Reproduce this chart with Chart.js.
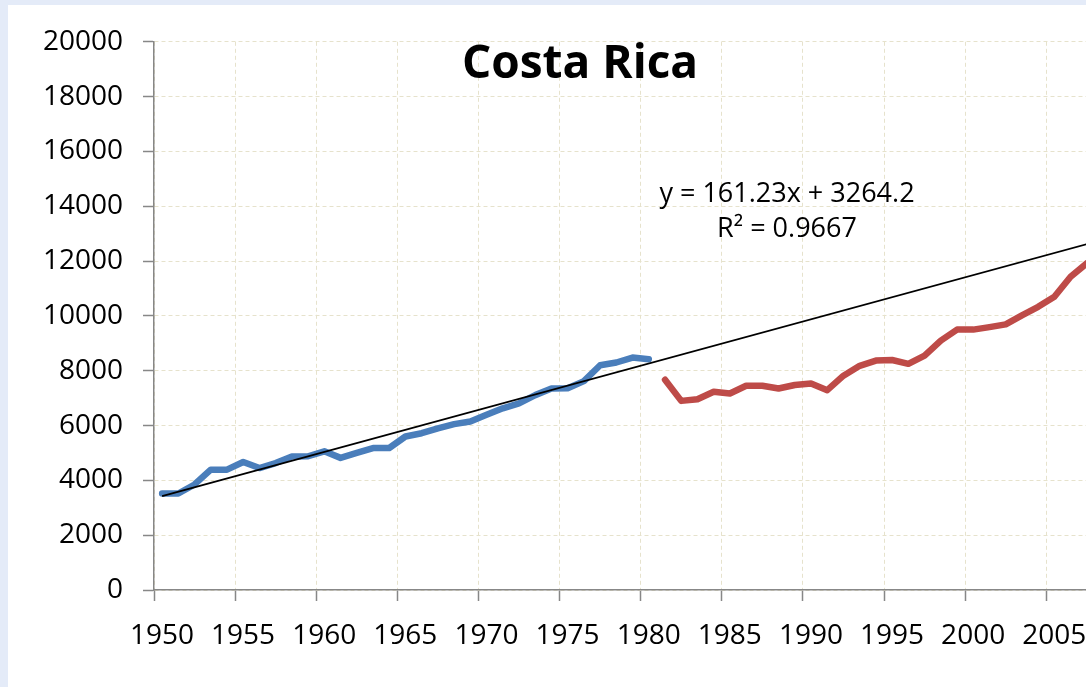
<!DOCTYPE html>
<html>
<head>
<meta charset="utf-8">
<script src="https://cdn.jsdelivr.net/npm/chart.js@4/dist/chart.umd.min.js"></script>
<style>
  html, body { margin: 0; padding: 0; }
  body { width: 1086px; height: 687px; background: #e4ebf8; overflow: hidden; position: relative; }
  #wrap { position: absolute; left: 8px; top: 5px; width: 1078px; height: 682px; background: #fff; }
</style>
</head>
<body>
<div id="wrap"><canvas id="chart"></canvas></div>
<script>
// dados
const blueYears = [1950, 1951, 1952, 1953, 1954, 1955, 1956, 1957, 1958, 1959,
    1960, 1961, 1962, 1963, 1964, 1965, 1966, 1967, 1968, 1969,
    1970, 1971, 1972, 1973, 1974, 1975, 1976, 1977, 1978, 1979, 1980]
const blueValues = [3520, 3520, 3850, 4390, 4390, 4670, 4450, 4630, 4870, 4880,
    5060, 4820, 5000, 5180, 5180, 5600, 5720, 5900, 6050, 6150,
    6390, 6630, 6810, 7110, 7350, 7360, 7620, 8200, 8300, 8480, 8420]

const redYears = [1981, 1982, 1983, 1984, 1985, 1986, 1987, 1988, 1989, 1990,
    1991, 1992, 1993, 1994, 1995, 1996, 1997, 1998, 1999, 2000,
    2001, 2002, 2003, 2004, 2005, 2006, 2007]
const redValues = [7670, 6900, 6960, 7230, 7170, 7450, 7450, 7350, 7480, 7530,
    7290, 7820, 8180, 8370, 8390, 8250, 8550, 9100, 9500, 9500,
    9590, 9690, 10020, 10330, 10700, 11430, 11920]

// linha de tendência: y = 161.23x + 3264.2 (x = 1 em 1950)
const trendCoef = [161.23, 3264.2]
const trendYears = [1950, 2007]

const yTicks = [0, 20000, 2000]
const xTickLabels = [1950, 1955, 1960, 1965, 1970, 1975, 1980, 1985, 1990, 1995, 2000, 2005]
const xRange = [1950, 2007.45]

const toPoints = (years, values) => years.map((yr, i) => ({ x: yr + 0.5, y: values[i] }));
const trendPoints = trendYears.map(yr => ({
    x: yr + 0.5,
    y: trendCoef[0] * (yr - 1949) + trendCoef[1]
}));

const FONT = "'Open Sans', 'Liberation Sans', sans-serif";
const gridColor = '#e6e2cc';
const axisColor = '#878787';

// títulos desenhados por cima do gráfico (como no Excel)
const textPlugin = {
    id: 'texts',
    afterDraw(chart) {
        const ctx = chart.ctx;
        ctx.save();
        ctx.fillStyle = '#000';
        ctx.textAlign = 'center';
        ctx.textBaseline = 'middle';
        ctx.font = 'bold 46px ' + FONT;
        ctx.fillText('Costa Rica', 572, 60);
        ctx.font = '27px ' + FONT;
        ctx.fillText('y = 161.23x + 3264.2', 779, 189);
        ctx.fillText('R² = 0.9667', 779, 224);
        ctx.restore();
    }
};

const gridOpts = {
    color: gridColor,
    tickColor: axisColor,
    tickBorderDash: [],
    tickLength: 11,
    tickWidth: 1.5,
    lineWidth: 1
};
const borderOpts = { color: axisColor, width: 1.5, dash: [4, 3] };

const config = {
    type: 'line',
    data: {
        datasets: [{
            data: toPoints(blueYears, blueValues),
            borderColor: '#4a7ebb',
            borderWidth: 6.5,
            pointRadius: 0,
            borderJoinStyle: 'round',
            borderCapStyle: 'round',
            order: 2
        }, {
            data: toPoints(redYears, redValues),
            borderColor: '#be4b48',
            borderWidth: 6.5,
            pointRadius: 0,
            borderJoinStyle: 'round',
            borderCapStyle: 'round',
            order: 2
        }, {
            data: trendPoints,
            borderColor: '#000',
            borderWidth: 1.8,
            pointRadius: 0,
            order: 1
        }]
    },
    options: {
        responsive: true,
        maintainAspectRatio: false,
        animation: false,
        layout: { padding: { left: 0, top: 36, right: 0, bottom: 0 } },
        plugins: {
            legend: { display: false },
            tooltip: { enabled: false },
            title: { display: false }
        },
        scales: {
            x: {
                type: 'linear',
                min: xRange[0],
                max: xRange[1],
                afterBuildTicks: s => { s.ticks = xTickLabels.map(v => ({ value: v })); },
                afterFit: s => {
                    s.height = 97;
                    s.paddingLeft = 0;
                    s.paddingRight = 0;
                },
                ticks: {
                    autoSkip: false,
                    maxRotation: 0,
                    labelOffset: 8,
                    padding: 18,
                    color: '#000',
                    font: { family: FONT, size: 28 },
                    callback: v => String(v)
                },
                grid: gridOpts,
                border: borderOpts
            },
            y: {
                min: yTicks[0],
                max: yTicks[1],
                afterFit: s => { s.width = 146; },
                ticks: {
                    stepSize: yTicks[2],
                    padding: 20,
                    color: '#000',
                    font: { family: FONT, size: 28 },
                    callback: v => String(v)
                },
                grid: gridOpts,
                border: borderOpts
            }
        }
    },
    plugins: [textPlugin]
};

const myChart = new Chart(document.getElementById('chart'), config);
</script>
</body>
</html>
